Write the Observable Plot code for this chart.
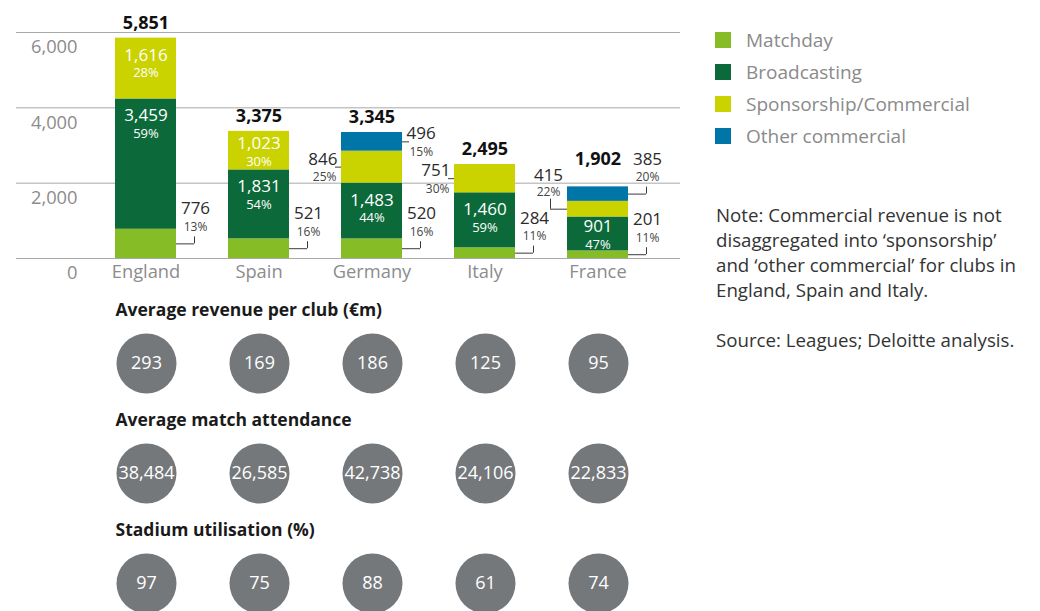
<!DOCTYPE html>
<html><head><meta charset="utf-8">
<script src="https://cdn.jsdelivr.net/npm/d3@7"></script>
<script src="https://cdn.jsdelivr.net/npm/@observablehq/plot@0.6"></script>
<style>
body{margin:0;background:#fff;font-family:"Open Sans",sans-serif;}
#wrap{position:relative;width:1040px;height:611px;overflow:hidden;}
#bars{position:absolute;left:0;top:0;}
#circles{position:absolute;left:0;top:290px;}
#legend{position:absolute;left:715px;top:24px;}
.item{display:flex;align-items:center;height:32px;font-size:19px;color:#8a8a8a;}
.sw{width:16px;height:16px;margin-right:15px;flex:none;}
#note{position:absolute;left:716px;top:202px;font-size:18.7px;line-height:25px;color:#333;white-space:nowrap;}
</style></head>
<body><div id="wrap"><div id="bars"></div><div id="circles"></div><div id="legend"></div><div id="note"></div></div>
<script>
const countries = ["England","Spain","Germany","Italy","France"];
const streams = ["Matchday","Broadcasting","Sponsorship/Commercial","Other commercial"];
const streamColors = ["#86bc25","#0c6a3a","#cad300","#0076a8"];
const matchday = [776,521,520,284,201];
const broadcasting = [3459,1831,1483,1460,901];
const sponsorship = [1616,1023,846,751,415];
const otherCommercial = [null,null,496,null,385];
const matchdayPct = [13,16,16,11,11];
const broadcastingPct = [59,54,44,59,47];
const sponsorshipPct = [28,30,25,30,22];
const otherCommercialPct = [null,null,15,null,20];
const totals = [5851,3375,3345,2495,1902];
const yTicks = [0,2000,4000,6000];
const metrics = ["Average revenue per club (€m)","Average match attendance","Stadium utilisation (%)"];
const revenuePerClub = [293,169,186,125,95];
const attendance = [38484,26585,42738,24106,22833];
const utilisation = [97,75,88,61,74];
const noteLines = ["Note: Commercial revenue is not","disaggregated into ‘sponsorship’","and ‘other commercial’ for clubs in","England, Spain and Italy.","","Source: Leagues; Deloitte analysis."];

const fmt = d3.format(",");
const series = [matchday, broadcasting, sponsorship, otherCommercial];
const pcts = [matchdayPct, broadcastingPct, sponsorshipPct, otherCommercialPct];
const rows = [];
countries.forEach((c,i)=>{
  let acc = 0;
  series.forEach((s,k)=>{
    const v = s[i]; if (v == null) return;
    rows.push({country:c, stream:streams[k], value:v, pct:pcts[k][i], y0:acc, y1:acc+v, mid:acc+v/2});
    acc += v;
  });
});
rows.forEach(r=>{
  if (r.stream==="Broadcasting" || (r.stream==="Sponsorship/Commercial" && r.value>=900)) r.place="inside";
  else if (r.stream==="Sponsorship/Commercial") r.place="left";
  else r.place="right";
  r.style = (r.stream==="Matchday" || r.value<450) ? "bracket" : "beside";
});

const H = 290, MT = 32, MB = 32;
const u = 6000/(H-MT-MB); // data units per pixel
const W = 61, HALF = W/2;
const xScale = {domain:countries, range:[88,655], paddingInner:0.4626, paddingOuter:0.229, axis:null};

// total label: above the bar, or level with a bracketed label on the top segment
const totalRows = countries.map((c,i)=>{
  const top = rows.filter(r=>r.country===c).slice(-1)[0];
  let ty = totals[i] + 15*u;
  if (top.place==="right" && top.style==="bracket") ty = Math.max(ty, top.mid + 35*u);
  return {country:c, total:totals[i], ty};
});

const inside = rows.filter(r=>r.place==="inside");
const inTop = inside.filter(r=>r.value>=1200), inMid = inside.filter(r=>r.value<1200);
const brR = rows.filter(r=>r.place==="right" && r.style==="bracket");
const brL = rows.filter(r=>r.place==="left" && r.style==="bracket");
const beR = rows.filter(r=>r.place==="right" && r.style==="beside");
const beL = rows.filter(r=>r.place==="left" && r.style==="beside");
const LC = "#3a3a3a", VC = "#2b2b2b", PC = "#444";

const barPlot = Plot.plot({
  width:700, height:H, marginLeft:16, marginRight:20, marginTop:MT, marginBottom:MB,
  style:{fontFamily:'"Open Sans", sans-serif', background:"transparent"},
  x:xScale,
  y:{domain:[0,6000], axis:null},
  color:{domain:streams, range:streamColors},
  marks:[
    Plot.ruleY(yTicks,{y:d=>d, stroke:"#a8a8a8"}),
    Plot.text(yTicks,{y:d=>d, text:d=>fmt(d), frameAnchor:"left", textAnchor:"end", dx:61, dy:15, fill:"#8c8c8c", fontSize:18.3}),
    Plot.barY(rows,{x:"country", y1:"y0", y2:"y1", fill:"stream"}),
    Plot.text(countries,{x:d=>d, frameAnchor:"bottom", lineAnchor:"middle", dy:14, fill:"#8c8c8c", fontSize:18.3}),
    // inside labels
    Plot.text(inTop,{x:"country", y:"y1", text:d=>fmt(d.value), dy:17, fill:"white", fontSize:17}),
    Plot.text(inTop,{x:"country", y:"y1", text:d=>d.pct+"%", dy:35, fill:"white", fontSize:13}),
    Plot.text(inMid,{x:"country", y:"mid", text:d=>fmt(d.value), dy:-7, fill:"white", fontSize:17}),
    Plot.text(inMid,{x:"country", y:"mid", text:d=>d.pct+"%", dy:11, fill:"white", fontSize:13}),
    // bracket right
    Plot.tickY(brR,{x:"country", y:"mid", dx:W, insetRight:W-18, stroke:LC}),
    Plot.ruleX(brR,{x:"country", y1:"mid", y2:d=>d.mid+7*u, dx:HALF+18, stroke:LC}),
    Plot.text(brR,{x:"country", y:"mid", text:d=>fmt(d.value), dx:HALF+19, dy:-35, fill:VC, fontSize:17}),
    Plot.text(brR,{x:"country", y:"mid", text:d=>d.pct+"%", dx:HALF+19, dy:-17, fill:PC, fontSize:12}),
    // bracket left
    Plot.tickY(brL,{x:"country", y:"mid", dx:-W, insetLeft:W-17, stroke:LC}),
    Plot.ruleX(brL,{x:"country", y1:"mid", y2:d=>d.mid+10*u, dx:-(HALF+17), stroke:LC}),
    Plot.text(brL,{x:"country", y:"mid", text:d=>fmt(d.value), dx:-(HALF+19), dy:-34, fill:VC, fontSize:17}),
    Plot.text(brL,{x:"country", y:"mid", text:d=>d.pct+"%", dx:-(HALF+19), dy:-17, fill:PC, fontSize:12}),
    // beside right
    Plot.tickY(beR,{x:"country", y:"mid", dx:W, insetRight:W-7, stroke:LC}),
    Plot.text(beR,{x:"country", y:"mid", text:d=>fmt(d.value), textAnchor:"start", dx:HALF+4, dy:-8, fill:VC, fontSize:17}),
    Plot.text(beR,{x:"country", y:"mid", text:d=>d.pct+"%", textAnchor:"start", dx:HALF+7, dy:10, fill:PC, fontSize:12}),
    // beside left
    Plot.tickY(beL,{x:"country", y:"mid", dx:-W, insetLeft:W-6, stroke:LC}),
    Plot.text(beL,{x:"country", y:"mid", text:d=>fmt(d.value), textAnchor:"end", dx:-(HALF+4), dy:-8, fill:VC, fontSize:17}),
    Plot.text(beL,{x:"country", y:"mid", text:d=>d.pct+"%", textAnchor:"end", dx:-(HALF+5), dy:10, fill:PC, fontSize:12}),
    // totals
    Plot.text(totalRows,{x:"country", y:"ty", text:d=>fmt(d.total), fill:"#111", fontSize:18, fontWeight:"bold"})
  ]
});
document.getElementById("bars").appendChild(barPlot);

const metricValues = [revenuePerClub, attendance, utilisation];
const circleRows = [];
metrics.forEach((m,k)=>countries.forEach((c,i)=>circleRows.push({metric:m, country:c, value:metricValues[k][i]})));
const circlePlot = Plot.plot({
  width:700, height:321, margin:0,
  style:{fontFamily:'"Open Sans", sans-serif', background:"transparent"},
  x:xScale,
  y:{type:"point", domain:metrics, range:[73,293], padding:0, axis:null},
  marks:[
    Plot.dot(circleRows,{x:"country", y:"metric", r:30, fill:"#75787b"}),
    Plot.text(circleRows,{x:"country", y:"metric", text:d=>fmt(d.value), fill:"white", fontSize:18}),
    Plot.text(metrics,{x:()=>countries[0], y:d=>d, text:d=>d, textAnchor:"start", dx:-31, dy:-53, fontWeight:"bold", fontSize:17.5, fill:"#1a1a1a"})
  ]
});
document.getElementById("circles").appendChild(circlePlot);

const legend = document.getElementById("legend");
streams.forEach((s,i)=>{
  const it = document.createElement("div"); it.className="item";
  const sw = document.createElement("span"); sw.className="sw"; sw.style.background=streamColors[i];
  it.appendChild(sw); it.appendChild(document.createTextNode(s)); legend.appendChild(it);
});
const note = document.getElementById("note");
noteLines.forEach(l=>{ const d=document.createElement("div"); d.textContent=l||"\u00a0"; note.appendChild(d); });
</script></body></html>
